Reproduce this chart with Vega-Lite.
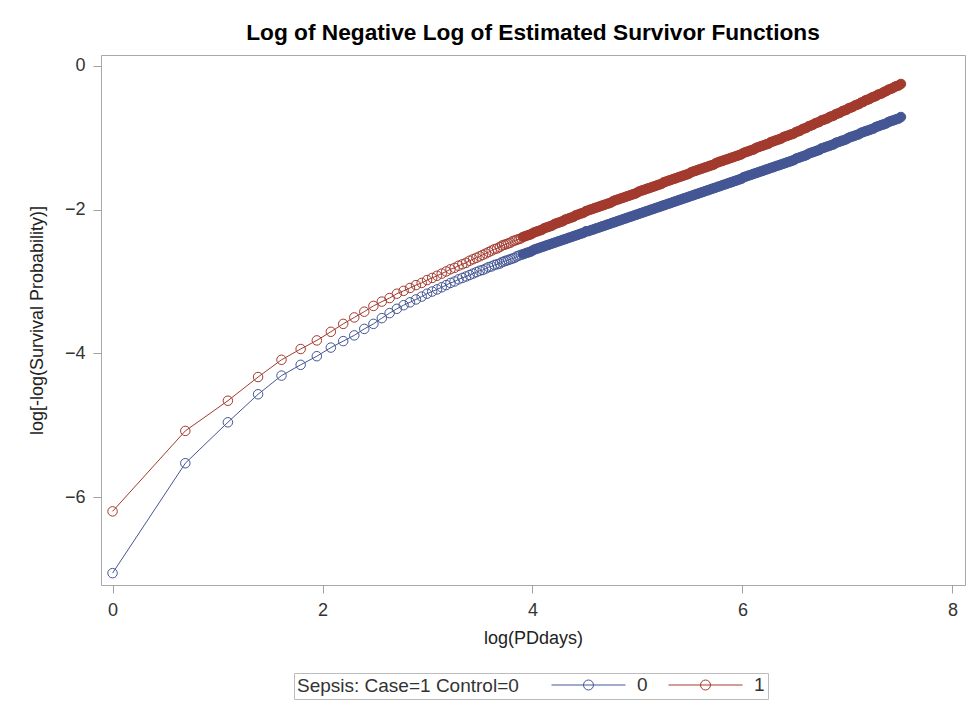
{
  "$schema": "https://vega.github.io/schema/vega-lite/v6.json",
  "width": 864,
  "height": 530,
  "autosize": {"type": "none"},
  "padding": {"left": 101, "top": 55, "right": 8, "bottom": 123},
  "background": "white",
  "title": {
    "text": "Log of Negative Log of Estimated Survivor Functions",
    "font": "Liberation Sans",
    "fontSize": 22.7,
    "fontWeight": "bold",
    "color": "black",
    "anchor": "middle",
    "offset": 10
  },
  "data": {
    "values": [
      {"s":"0","x":0,"y":-7.06},{"s":"0","x":0.6931,"y":-5.53},{"s":"0","x":1.0986,"y":-4.96},{"s":"0","x":1.3863,"y":-4.57},{"s":"0","x":1.6094,"y":-4.31},
      {"s":"0","x":1.7918,"y":-4.16},{"s":"0","x":1.9459,"y":-4.04},{"s":"0","x":2.0794,"y":-3.92},{"s":"0","x":2.1972,"y":-3.83},{"s":"0","x":2.3026,"y":-3.75},
      {"s":"0","x":2.3979,"y":-3.66},{"s":"0","x":2.4849,"y":-3.59},{"s":"0","x":2.5649,"y":-3.51},{"s":"0","x":2.6391,"y":-3.44},{"s":"0","x":2.7081,"y":-3.38},
      {"s":"0","x":2.7726,"y":-3.33},{"s":"0","x":2.8332,"y":-3.29},{"s":"0","x":2.8904,"y":-3.25},{"s":"0","x":2.9444,"y":-3.21},{"s":"0","x":2.9957,"y":-3.17},
      {"s":"0","x":3.0445,"y":-3.14},{"s":"0","x":3.091,"y":-3.11},{"s":"0","x":3.1355,"y":-3.08},{"s":"0","x":3.1781,"y":-3.05},{"s":"0","x":3.2189,"y":-3.02},
      {"s":"0","x":3.2581,"y":-3.0},{"s":"0","x":3.2958,"y":-2.97},{"s":"0","x":3.3322,"y":-2.95},{"s":"0","x":3.3673,"y":-2.93},{"s":"0","x":3.4012,"y":-2.91},
      {"s":"0","x":3.434,"y":-2.89},{"s":"0","x":3.4657,"y":-2.87},{"s":"0","x":3.4965,"y":-2.85},{"s":"0","x":3.5264,"y":-2.84},{"s":"0","x":3.5553,"y":-2.82},
      {"s":"0","x":3.5835,"y":-2.8},{"s":"0","x":3.6109,"y":-2.79},{"s":"0","x":3.6376,"y":-2.77},{"s":"0","x":3.6636,"y":-2.76},{"s":"0","x":3.6889,"y":-2.75},
      {"s":"0","x":3.71,"y":-2.73},{"s":"0","x":3.73,"y":-2.72},{"s":"0","x":3.75,"y":-2.71},{"s":"0","x":3.77,"y":-2.7},{"s":"0","x":3.79,"y":-2.69},
      {"s":"0","x":3.81,"y":-2.68},{"s":"0","x":3.83,"y":-2.67},{"s":"0","x":3.85,"y":-2.65},{"s":"0","x":3.87,"y":-2.64},{"s":"0","x":3.89,"y":-2.63},
      {"s":"0","x":3.91,"y":-2.62},{"s":"0","x":3.93,"y":-2.61},{"s":"0","x":3.95,"y":-2.6},{"s":"0","x":3.97,"y":-2.59},{"s":"0","x":3.99,"y":-2.58},
      {"s":"0","x":4.01,"y":-2.56},{"s":"0","x":4.03,"y":-2.55},{"s":"0","x":4.05,"y":-2.54},{"s":"0","x":4.07,"y":-2.53},{"s":"0","x":4.09,"y":-2.52},
      {"s":"0","x":4.11,"y":-2.51},{"s":"0","x":4.13,"y":-2.5},{"s":"0","x":4.15,"y":-2.49},{"s":"0","x":4.17,"y":-2.48},{"s":"0","x":4.19,"y":-2.47},
      {"s":"0","x":4.21,"y":-2.46},{"s":"0","x":4.23,"y":-2.45},{"s":"0","x":4.25,"y":-2.44},{"s":"0","x":4.27,"y":-2.43},{"s":"0","x":4.29,"y":-2.42},
      {"s":"0","x":4.31,"y":-2.41},{"s":"0","x":4.33,"y":-2.4},{"s":"0","x":4.35,"y":-2.39},{"s":"0","x":4.37,"y":-2.38},{"s":"0","x":4.39,"y":-2.37},
      {"s":"0","x":4.41,"y":-2.36},{"s":"0","x":4.43,"y":-2.35},{"s":"0","x":4.45,"y":-2.34},{"s":"0","x":4.47,"y":-2.33},{"s":"0","x":4.49,"y":-2.32},
      {"s":"0","x":4.51,"y":-2.3},{"s":"0","x":4.53,"y":-2.3},{"s":"0","x":4.55,"y":-2.29},{"s":"0","x":4.57,"y":-2.28},{"s":"0","x":4.59,"y":-2.27},
      {"s":"0","x":4.61,"y":-2.26},{"s":"0","x":4.63,"y":-2.25},{"s":"0","x":4.65,"y":-2.24},{"s":"0","x":4.67,"y":-2.23},{"s":"0","x":4.69,"y":-2.22},
      {"s":"0","x":4.71,"y":-2.21},{"s":"0","x":4.73,"y":-2.2},{"s":"0","x":4.75,"y":-2.19},{"s":"0","x":4.77,"y":-2.18},{"s":"0","x":4.79,"y":-2.17},
      {"s":"0","x":4.81,"y":-2.16},{"s":"0","x":4.83,"y":-2.15},{"s":"0","x":4.85,"y":-2.14},{"s":"0","x":4.87,"y":-2.13},{"s":"0","x":4.89,"y":-2.12},
      {"s":"0","x":4.91,"y":-2.11},{"s":"0","x":4.93,"y":-2.1},{"s":"0","x":4.95,"y":-2.09},{"s":"0","x":4.97,"y":-2.08},{"s":"0","x":4.99,"y":-2.07},
      {"s":"0","x":5.01,"y":-2.06},{"s":"0","x":5.03,"y":-2.05},{"s":"0","x":5.05,"y":-2.04},{"s":"0","x":5.07,"y":-2.03},{"s":"0","x":5.09,"y":-2.02},
      {"s":"0","x":5.11,"y":-2.01},{"s":"0","x":5.13,"y":-2.0},{"s":"0","x":5.15,"y":-1.99},{"s":"0","x":5.17,"y":-1.98},{"s":"0","x":5.19,"y":-1.97},
      {"s":"0","x":5.21,"y":-1.96},{"s":"0","x":5.23,"y":-1.95},{"s":"0","x":5.25,"y":-1.94},{"s":"0","x":5.27,"y":-1.93},{"s":"0","x":5.29,"y":-1.92},
      {"s":"0","x":5.31,"y":-1.91},{"s":"0","x":5.33,"y":-1.9},{"s":"0","x":5.35,"y":-1.89},{"s":"0","x":5.37,"y":-1.88},{"s":"0","x":5.39,"y":-1.87},
      {"s":"0","x":5.41,"y":-1.86},{"s":"0","x":5.43,"y":-1.85},{"s":"0","x":5.45,"y":-1.84},{"s":"0","x":5.47,"y":-1.83},{"s":"0","x":5.49,"y":-1.82},
      {"s":"0","x":5.51,"y":-1.81},{"s":"0","x":5.53,"y":-1.8},{"s":"0","x":5.55,"y":-1.79},{"s":"0","x":5.57,"y":-1.78},{"s":"0","x":5.59,"y":-1.77},
      {"s":"0","x":5.61,"y":-1.76},{"s":"0","x":5.63,"y":-1.75},{"s":"0","x":5.65,"y":-1.74},{"s":"0","x":5.67,"y":-1.73},{"s":"0","x":5.69,"y":-1.72},
      {"s":"0","x":5.71,"y":-1.71},{"s":"0","x":5.73,"y":-1.7},{"s":"0","x":5.75,"y":-1.69},{"s":"0","x":5.77,"y":-1.68},{"s":"0","x":5.79,"y":-1.67},
      {"s":"0","x":5.81,"y":-1.66},{"s":"0","x":5.83,"y":-1.65},{"s":"0","x":5.85,"y":-1.64},{"s":"0","x":5.87,"y":-1.63},{"s":"0","x":5.89,"y":-1.62},
      {"s":"0","x":5.91,"y":-1.61},{"s":"0","x":5.93,"y":-1.6},{"s":"0","x":5.95,"y":-1.59},{"s":"0","x":5.97,"y":-1.58},{"s":"0","x":5.99,"y":-1.57},
      {"s":"0","x":6.01,"y":-1.55},{"s":"0","x":6.03,"y":-1.54},{"s":"0","x":6.05,"y":-1.53},{"s":"0","x":6.07,"y":-1.52},{"s":"0","x":6.09,"y":-1.51},
      {"s":"0","x":6.11,"y":-1.5},{"s":"0","x":6.13,"y":-1.49},{"s":"0","x":6.15,"y":-1.48},{"s":"0","x":6.17,"y":-1.47},{"s":"0","x":6.19,"y":-1.46},
      {"s":"0","x":6.21,"y":-1.45},{"s":"0","x":6.23,"y":-1.44},{"s":"0","x":6.25,"y":-1.43},{"s":"0","x":6.27,"y":-1.42},{"s":"0","x":6.29,"y":-1.41},
      {"s":"0","x":6.31,"y":-1.4},{"s":"0","x":6.33,"y":-1.39},{"s":"0","x":6.35,"y":-1.38},{"s":"0","x":6.37,"y":-1.37},{"s":"0","x":6.39,"y":-1.36},
      {"s":"0","x":6.41,"y":-1.35},{"s":"0","x":6.43,"y":-1.34},{"s":"0","x":6.45,"y":-1.33},{"s":"0","x":6.47,"y":-1.32},{"s":"0","x":6.49,"y":-1.31},
      {"s":"0","x":6.51,"y":-1.29},{"s":"0","x":6.53,"y":-1.28},{"s":"0","x":6.55,"y":-1.27},{"s":"0","x":6.57,"y":-1.26},{"s":"0","x":6.59,"y":-1.25},
      {"s":"0","x":6.61,"y":-1.24},{"s":"0","x":6.63,"y":-1.22},{"s":"0","x":6.65,"y":-1.21},{"s":"0","x":6.67,"y":-1.2},{"s":"0","x":6.69,"y":-1.19},
      {"s":"0","x":6.71,"y":-1.18},{"s":"0","x":6.73,"y":-1.17},{"s":"0","x":6.75,"y":-1.15},{"s":"0","x":6.77,"y":-1.14},{"s":"0","x":6.79,"y":-1.13},
      {"s":"0","x":6.81,"y":-1.12},{"s":"0","x":6.83,"y":-1.11},{"s":"0","x":6.85,"y":-1.1},{"s":"0","x":6.87,"y":-1.09},{"s":"0","x":6.89,"y":-1.07},
      {"s":"0","x":6.91,"y":-1.06},{"s":"0","x":6.93,"y":-1.05},{"s":"0","x":6.95,"y":-1.04},{"s":"0","x":6.97,"y":-1.03},{"s":"0","x":6.99,"y":-1.02},
      {"s":"0","x":7.01,"y":-1.0},{"s":"0","x":7.03,"y":-0.99},{"s":"0","x":7.05,"y":-0.98},{"s":"0","x":7.07,"y":-0.97},{"s":"0","x":7.09,"y":-0.96},
      {"s":"0","x":7.11,"y":-0.95},{"s":"0","x":7.13,"y":-0.93},{"s":"0","x":7.15,"y":-0.92},{"s":"0","x":7.17,"y":-0.91},{"s":"0","x":7.19,"y":-0.9},
      {"s":"0","x":7.21,"y":-0.89},{"s":"0","x":7.23,"y":-0.88},{"s":"0","x":7.25,"y":-0.87},{"s":"0","x":7.27,"y":-0.85},{"s":"0","x":7.29,"y":-0.84},
      {"s":"0","x":7.31,"y":-0.83},{"s":"0","x":7.33,"y":-0.82},{"s":"0","x":7.35,"y":-0.81},{"s":"0","x":7.37,"y":-0.8},{"s":"0","x":7.39,"y":-0.78},
      {"s":"0","x":7.41,"y":-0.77},{"s":"0","x":7.43,"y":-0.76},{"s":"0","x":7.45,"y":-0.75},{"s":"0","x":7.47,"y":-0.74},{"s":"0","x":7.49,"y":-0.73},
      {"s":"0","x":7.51,"y":-0.71},

      {"s":"1","x":0,"y":-6.2},{"s":"1","x":0.6931,"y":-5.08},{"s":"1","x":1.0986,"y":-4.66},{"s":"1","x":1.3863,"y":-4.33},{"s":"1","x":1.6094,"y":-4.09},
      {"s":"1","x":1.7918,"y":-3.94},{"s":"1","x":1.9459,"y":-3.82},{"s":"1","x":2.0794,"y":-3.7},{"s":"1","x":2.1972,"y":-3.59},{"s":"1","x":2.3026,"y":-3.5},
      {"s":"1","x":2.3979,"y":-3.42},{"s":"1","x":2.4849,"y":-3.34},{"s":"1","x":2.5649,"y":-3.28},{"s":"1","x":2.6391,"y":-3.23},{"s":"1","x":2.7081,"y":-3.17},
      {"s":"1","x":2.7726,"y":-3.13},{"s":"1","x":2.8332,"y":-3.09},{"s":"1","x":2.8904,"y":-3.05},{"s":"1","x":2.9444,"y":-3.02},{"s":"1","x":2.9957,"y":-2.98},
      {"s":"1","x":3.0445,"y":-2.95},{"s":"1","x":3.091,"y":-2.92},{"s":"1","x":3.1355,"y":-2.89},{"s":"1","x":3.1781,"y":-2.86},{"s":"1","x":3.2189,"y":-2.83},
      {"s":"1","x":3.2581,"y":-2.81},{"s":"1","x":3.2958,"y":-2.78},{"s":"1","x":3.3322,"y":-2.76},{"s":"1","x":3.3673,"y":-2.74},{"s":"1","x":3.4012,"y":-2.71},
      {"s":"1","x":3.434,"y":-2.69},{"s":"1","x":3.4657,"y":-2.67},{"s":"1","x":3.4965,"y":-2.65},{"s":"1","x":3.5264,"y":-2.63},{"s":"1","x":3.5553,"y":-2.61},
      {"s":"1","x":3.5835,"y":-2.59},{"s":"1","x":3.6109,"y":-2.57},{"s":"1","x":3.6376,"y":-2.55},{"s":"1","x":3.6636,"y":-2.54},{"s":"1","x":3.6889,"y":-2.52},
      {"s":"1","x":3.71,"y":-2.5},{"s":"1","x":3.73,"y":-2.49},{"s":"1","x":3.75,"y":-2.48},{"s":"1","x":3.77,"y":-2.47},{"s":"1","x":3.79,"y":-2.46},
      {"s":"1","x":3.81,"y":-2.44},{"s":"1","x":3.83,"y":-2.43},{"s":"1","x":3.85,"y":-2.42},{"s":"1","x":3.87,"y":-2.41},{"s":"1","x":3.89,"y":-2.4},
      {"s":"1","x":3.91,"y":-2.38},{"s":"1","x":3.93,"y":-2.37},{"s":"1","x":3.95,"y":-2.36},{"s":"1","x":3.97,"y":-2.35},{"s":"1","x":3.99,"y":-2.34},
      {"s":"1","x":4.01,"y":-2.32},{"s":"1","x":4.03,"y":-2.31},{"s":"1","x":4.05,"y":-2.3},{"s":"1","x":4.07,"y":-2.29},{"s":"1","x":4.09,"y":-2.28},
      {"s":"1","x":4.11,"y":-2.26},{"s":"1","x":4.13,"y":-2.25},{"s":"1","x":4.15,"y":-2.24},{"s":"1","x":4.17,"y":-2.23},{"s":"1","x":4.19,"y":-2.22},
      {"s":"1","x":4.21,"y":-2.2},{"s":"1","x":4.23,"y":-2.19},{"s":"1","x":4.25,"y":-2.18},{"s":"1","x":4.27,"y":-2.17},{"s":"1","x":4.29,"y":-2.16},
      {"s":"1","x":4.31,"y":-2.14},{"s":"1","x":4.33,"y":-2.13},{"s":"1","x":4.35,"y":-2.12},{"s":"1","x":4.37,"y":-2.11},{"s":"1","x":4.39,"y":-2.1},
      {"s":"1","x":4.41,"y":-2.08},{"s":"1","x":4.43,"y":-2.07},{"s":"1","x":4.45,"y":-2.06},{"s":"1","x":4.47,"y":-2.05},{"s":"1","x":4.49,"y":-2.04},
      {"s":"1","x":4.51,"y":-2.02},{"s":"1","x":4.53,"y":-2.01},{"s":"1","x":4.55,"y":-2.0},{"s":"1","x":4.57,"y":-1.99},{"s":"1","x":4.59,"y":-1.98},
      {"s":"1","x":4.61,"y":-1.97},{"s":"1","x":4.63,"y":-1.96},{"s":"1","x":4.65,"y":-1.95},{"s":"1","x":4.67,"y":-1.94},{"s":"1","x":4.69,"y":-1.93},
      {"s":"1","x":4.71,"y":-1.92},{"s":"1","x":4.73,"y":-1.91},{"s":"1","x":4.75,"y":-1.9},{"s":"1","x":4.77,"y":-1.88},{"s":"1","x":4.79,"y":-1.87},
      {"s":"1","x":4.81,"y":-1.86},{"s":"1","x":4.83,"y":-1.85},{"s":"1","x":4.85,"y":-1.84},{"s":"1","x":4.87,"y":-1.83},{"s":"1","x":4.89,"y":-1.82},
      {"s":"1","x":4.91,"y":-1.81},{"s":"1","x":4.93,"y":-1.8},{"s":"1","x":4.95,"y":-1.79},{"s":"1","x":4.97,"y":-1.78},{"s":"1","x":4.99,"y":-1.77},
      {"s":"1","x":5.01,"y":-1.75},{"s":"1","x":5.03,"y":-1.74},{"s":"1","x":5.05,"y":-1.73},{"s":"1","x":5.07,"y":-1.72},{"s":"1","x":5.09,"y":-1.71},
      {"s":"1","x":5.11,"y":-1.7},{"s":"1","x":5.13,"y":-1.69},{"s":"1","x":5.15,"y":-1.68},{"s":"1","x":5.17,"y":-1.67},{"s":"1","x":5.19,"y":-1.66},
      {"s":"1","x":5.21,"y":-1.65},{"s":"1","x":5.23,"y":-1.64},{"s":"1","x":5.25,"y":-1.62},{"s":"1","x":5.27,"y":-1.61},{"s":"1","x":5.29,"y":-1.6},
      {"s":"1","x":5.31,"y":-1.59},{"s":"1","x":5.33,"y":-1.58},{"s":"1","x":5.35,"y":-1.57},{"s":"1","x":5.37,"y":-1.56},{"s":"1","x":5.39,"y":-1.55},
      {"s":"1","x":5.41,"y":-1.54},{"s":"1","x":5.43,"y":-1.53},{"s":"1","x":5.45,"y":-1.52},{"s":"1","x":5.47,"y":-1.51},{"s":"1","x":5.49,"y":-1.5},
      {"s":"1","x":5.51,"y":-1.48},{"s":"1","x":5.53,"y":-1.47},{"s":"1","x":5.55,"y":-1.46},{"s":"1","x":5.57,"y":-1.45},{"s":"1","x":5.59,"y":-1.44},
      {"s":"1","x":5.61,"y":-1.43},{"s":"1","x":5.63,"y":-1.42},{"s":"1","x":5.65,"y":-1.41},{"s":"1","x":5.67,"y":-1.4},{"s":"1","x":5.69,"y":-1.39},
      {"s":"1","x":5.71,"y":-1.38},{"s":"1","x":5.73,"y":-1.37},{"s":"1","x":5.75,"y":-1.35},{"s":"1","x":5.77,"y":-1.34},{"s":"1","x":5.79,"y":-1.33},
      {"s":"1","x":5.81,"y":-1.32},{"s":"1","x":5.83,"y":-1.31},{"s":"1","x":5.85,"y":-1.3},{"s":"1","x":5.87,"y":-1.29},{"s":"1","x":5.89,"y":-1.28},
      {"s":"1","x":5.91,"y":-1.27},{"s":"1","x":5.93,"y":-1.26},{"s":"1","x":5.95,"y":-1.25},{"s":"1","x":5.97,"y":-1.24},{"s":"1","x":5.99,"y":-1.23},
      {"s":"1","x":6.01,"y":-1.21},{"s":"1","x":6.03,"y":-1.2},{"s":"1","x":6.05,"y":-1.19},{"s":"1","x":6.07,"y":-1.18},{"s":"1","x":6.09,"y":-1.17},
      {"s":"1","x":6.11,"y":-1.16},{"s":"1","x":6.13,"y":-1.14},{"s":"1","x":6.15,"y":-1.13},{"s":"1","x":6.17,"y":-1.12},{"s":"1","x":6.19,"y":-1.11},
      {"s":"1","x":6.21,"y":-1.1},{"s":"1","x":6.23,"y":-1.09},{"s":"1","x":6.25,"y":-1.08},{"s":"1","x":6.27,"y":-1.06},{"s":"1","x":6.29,"y":-1.05},
      {"s":"1","x":6.31,"y":-1.04},{"s":"1","x":6.33,"y":-1.03},{"s":"1","x":6.35,"y":-1.02},{"s":"1","x":6.37,"y":-1.01},{"s":"1","x":6.39,"y":-0.99},
      {"s":"1","x":6.41,"y":-0.98},{"s":"1","x":6.43,"y":-0.97},{"s":"1","x":6.45,"y":-0.96},{"s":"1","x":6.47,"y":-0.95},{"s":"1","x":6.49,"y":-0.94},
      {"s":"1","x":6.51,"y":-0.92},{"s":"1","x":6.53,"y":-0.91},{"s":"1","x":6.55,"y":-0.9},{"s":"1","x":6.57,"y":-0.88},{"s":"1","x":6.59,"y":-0.87},
      {"s":"1","x":6.61,"y":-0.86},{"s":"1","x":6.63,"y":-0.84},{"s":"1","x":6.65,"y":-0.83},{"s":"1","x":6.67,"y":-0.82},{"s":"1","x":6.69,"y":-0.8},
      {"s":"1","x":6.71,"y":-0.79},{"s":"1","x":6.73,"y":-0.78},{"s":"1","x":6.75,"y":-0.76},{"s":"1","x":6.77,"y":-0.75},{"s":"1","x":6.79,"y":-0.74},
      {"s":"1","x":6.81,"y":-0.73},{"s":"1","x":6.83,"y":-0.71},{"s":"1","x":6.85,"y":-0.7},{"s":"1","x":6.87,"y":-0.69},{"s":"1","x":6.89,"y":-0.67},
      {"s":"1","x":6.91,"y":-0.66},{"s":"1","x":6.93,"y":-0.65},{"s":"1","x":6.95,"y":-0.63},{"s":"1","x":6.97,"y":-0.62},{"s":"1","x":6.99,"y":-0.61},
      {"s":"1","x":7.01,"y":-0.59},{"s":"1","x":7.03,"y":-0.58},{"s":"1","x":7.05,"y":-0.57},{"s":"1","x":7.07,"y":-0.55},{"s":"1","x":7.09,"y":-0.54},
      {"s":"1","x":7.11,"y":-0.53},{"s":"1","x":7.13,"y":-0.51},{"s":"1","x":7.15,"y":-0.5},{"s":"1","x":7.17,"y":-0.48},{"s":"1","x":7.19,"y":-0.47},
      {"s":"1","x":7.21,"y":-0.46},{"s":"1","x":7.23,"y":-0.44},{"s":"1","x":7.25,"y":-0.43},{"s":"1","x":7.27,"y":-0.42},{"s":"1","x":7.29,"y":-0.4},
      {"s":"1","x":7.31,"y":-0.39},{"s":"1","x":7.33,"y":-0.38},{"s":"1","x":7.35,"y":-0.36},{"s":"1","x":7.37,"y":-0.35},{"s":"1","x":7.39,"y":-0.33},
      {"s":"1","x":7.41,"y":-0.32},{"s":"1","x":7.43,"y":-0.31},{"s":"1","x":7.45,"y":-0.29},{"s":"1","x":7.47,"y":-0.28},{"s":"1","x":7.49,"y":-0.27},
      {"s":"1","x":7.51,"y":-0.25}
    ]
  },
  "encoding": {
    "x": {
      "field": "x",
      "type": "quantitative",
      "scale": {"domain": [-0.11, 8.12], "nice": false, "zero": false},
      "axis": {"title": "log(PDdays)", "values": [0, 2, 4, 6, 8], "titlePadding": 10}
    },
    "y": {
      "field": "y",
      "type": "quantitative",
      "scale": {"domain": [-7.225, 0.153], "nice": false, "zero": false},
      "axis": {"title": "log[-log(Survival Probability)]", "values": [-6, -4, -2, 0], "titlePadding": 18}
    }
  },
  "layer": [
    {
      "mark": {"type": "line", "strokeWidth": 1},
      "encoding": {
        "color": {
          "field": "s",
          "type": "nominal",
          "scale": {"domain": ["0", "1"], "range": ["#445694", "#A23A2E"]},
          "legend": {
            "title": "Sepsis: Case=1 Control=0",
            "orient": "none",
            "legendX": 193,
            "legendY": 618,
            "direction": "horizontal",
            "titleOrient": "left",
            "titleFont": "Liberation Sans",
            "titleFontSize": 19,
            "titleFontWeight": "normal",
            "titleColor": "#333333",
            "titleLimit": 400,
            "titlePadding": 32,
            "labelFont": "Liberation Sans",
            "labelFontSize": 19,
            "labelColor": "#333333",
            "labelOffset": 11,
            "columnPadding": 20,
            "symbolType": "M-1,0H1M0.135,0A0.135,0.135,0,1,1,-0.135,0A0.135,0.135,0,1,1,0.135,0",
            "symbolSize": 5476,
            "symbolStrokeWidth": 1,
            "symbolFillColor": "transparent",
            "clipHeight": 18,
            "strokeColor": "#bcbcbc",
            "padding": 3
          }
        }
      }
    },
    {
      "transform": [{"filter": "datum.x >= 3.9"}],
      "mark": {"type": "point", "shape": "circle", "filled": true, "size": 90, "opacity": 1},
      "encoding": {
        "fill": {"condition": {"test": "datum.s === '0'", "value": "#445694"}, "value": "#A23A2E"}
      }
    },
    {
      "mark": {"type": "point", "shape": "circle", "filled": false, "size": 90, "strokeWidth": 1, "opacity": 1},
      "encoding": {
        "color": {"field": "s", "type": "nominal"}
      }
    }
  ],
  "config": {
    "view": {"stroke": "#a8a8a8", "strokeWidth": 1},
    "axis": {
      "domain": false,
      "grid": false,
      "tickColor": "#a0a0a0",
      "tickSize": 8,
      "labelPadding": 8,
      "labelFont": "Liberation Sans",
      "labelFontSize": 18,
      "labelColor": "#333333",
      "titleFont": "Liberation Sans",
      "titleFontSize": 18,
      "titleFontWeight": "normal",
      "titleColor": "#222222"
    }
  }
}
